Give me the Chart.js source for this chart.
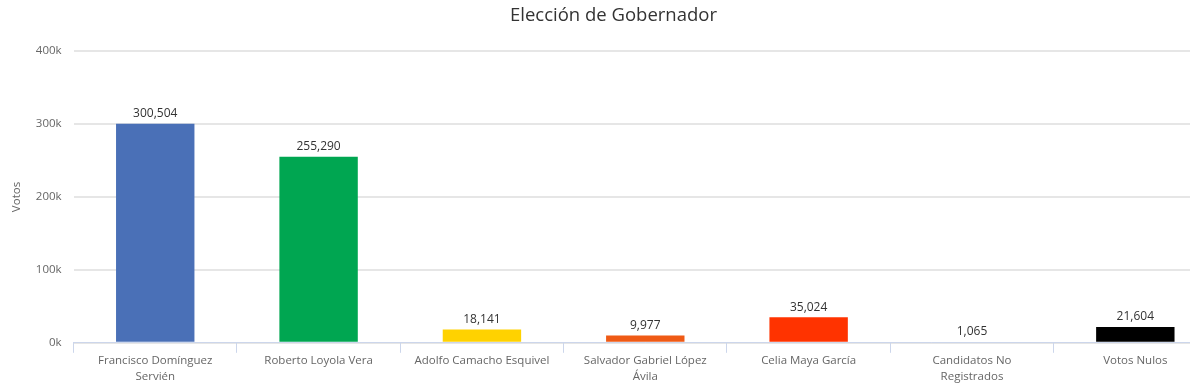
<!DOCTYPE html>
<html>
<head>
<meta charset="utf-8">
<script src="https://cdn.jsdelivr.net/npm/chart.js@4.4.0/dist/chart.umd.min.js"></script>
<style>
  html, body { margin: 0; padding: 0; overflow: hidden; background: #fff; }
  #wrap { width: 1230px; height: 391px; }
</style>
</head>
<body>
<div id="wrap"><canvas id="myChart" width="1230" height="391"></canvas></div>
<script>
const candidatos = [
  ['Francisco Domínguez', 'Servién'],
  'Roberto Loyola Vera',
  'Adolfo Camacho Esquivel',
  ['Salvador Gabriel López', 'Ávila'],
  'Celia Maya García',
  ['Candidatos No', 'Registrados'],
  'Votos Nulos'
];
const votos = [300504, 255290, 18141, 9977, 35024, 1065, 21604];
const colores = ['#4a70b7', '#00a651', '#ffd200', '#ef5a15', '#ff3300', '#ffffff', '#000000'];

const fontFam = '"Open Sans", "DejaVu Sans", sans-serif';

// etiquetas de valor arriba de cada barra
const etiquetas = {
  id: 'etiquetas',
  afterDatasetsDraw(chart) {
    const c = chart.ctx;
    const meta = chart.getDatasetMeta(0);
    c.save();
    c.font = '12px ' + fontFam;
    c.fillStyle = '#333333';
    c.textAlign = 'center';
    c.textBaseline = 'bottom';
    meta.data.forEach((bar, i) => {
      c.fillText(votos[i].toLocaleString('en-US'), bar.x, bar.y - 4);
    });
    c.restore();
  }
};

new Chart(document.getElementById('myChart'), {
  type: 'bar',
  data: {
    labels: candidatos,
    datasets: [{
      label: 'Votos',
      data: votos,
      backgroundColor: colores,
      borderWidth: 0,
      barPercentage: 1,
      categoryPercentage: 0.48
    }]
  },
  plugins: [etiquetas],
  options: {
    responsive: false,
    animation: false,
    layout: { padding: { left: 10, right: 13, top: 0, bottom: 6 } },
    plugins: {
      legend: { display: false },
      tooltip: { enabled: false },
      title: {
        display: true,
        text: 'Elección de Gobernador',
        color: '#333333',
        font: { family: fontFam, size: 18.5, weight: 'normal' },
        padding: { top: 5, bottom: 24 }
      }
    },
    scales: {
      y: {
        min: 0,
        max: 400000,
        ticks: {
          stepSize: 100000,
          color: '#666666',
          font: { family: fontFam, size: 11.5 },
          padding: 12,
          callback: v => (v / 1000) + 'k'
        },
        grid: { color: '#e6e6e6', lineWidth: 2, drawTicks: false },
        border: { display: false },
        title: {
          display: true,
          text: 'Votos',
          color: '#666666',
          font: { family: fontFam, size: 11.5 },
          padding: { top: 0, bottom: 0 }
        }
      },
      x: {
        ticks: {
          color: '#666666',
          font: { family: fontFam, size: 11.5, lineHeight: 1.4 },
          padding: 0,
          maxRotation: 0,
          autoSkip: false
        },
        grid: {
          offset: true,
          drawOnChartArea: false,
          drawTicks: true,
          tickLength: 10,
          color: '#ccd6eb'
        },
        border: { display: true, color: '#ccd6eb', width: 1 }
      }
    }
  }
});
</script>
</body>
</html>
